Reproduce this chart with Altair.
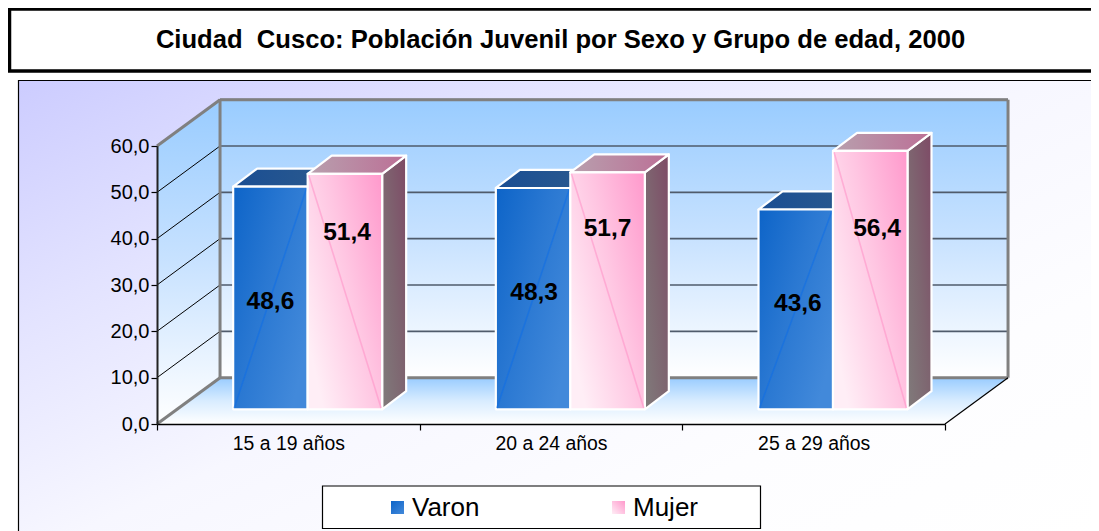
import altair as alt
import pandas as pd

TITLE = "Ciudad \u00a0Cusco: Población Juvenil por Sexo y Grupo de edad, 2000"
CATEGORIES = ["15 a 19 años", "20 a 24 años", "25 a 29 años"]
SERIES = ["Varon", "Mujer"]
VARON = [48.6, 48.3, 43.6]
MUJER = [51.4, 51.7, 56.4]
Y_TICKS = [0, 10, 20, 30, 40, 50, 60]

# layout of the drawing, separate from the data
W, H, PL, PT = 788, 278, 149, 138
DX, DY = 0.24, 10.0            # depth of the chart box, in axis units
BDX, BDY = 0.0914, 3.9         # depth of one bar
BAR_W = 0.2836
BAR_X0 = 0.29
BASE = 3.17
PERSP = 0.989
# hand-placed value labels: height share of the bar, and x nudge
LABEL_SHARE = [[0.485, 0.53, 0.53], [0.753, 0.764, 0.70]]
LABEL_NUDGE = [[0.0, 0.004, 0.008], [0.008, 0.0, 0.026]]


def px(page_x):
    return page_x - 8 - PL


def py(page_y):
    return page_y - 8 - PT


def grad(stops, x1=0, y1=0, x2=0, y2=1):
    n = len(stops) - 1
    return alt.Gradient(
        gradient="linear",
        stops=[alt.GradientStop(color=c, offset=i / n) for i, c in enumerate(stops)],
        x1=x1, y1=y1, x2=x2, y2=y2,
    )


XS = alt.Scale(domain=[0, 3])
YS = alt.Scale(domain=[0, 60])


def X(f="x", **kw):
    return alt.X(f"{f}:Q", scale=XS, axis=kw.pop("axis", None), title=None)


def Y(f="y", **kw):
    return alt.Y(f"{f}:Q", scale=YS, axis=kw.pop("axis", None), title=None, stack=None)


def box(x0, y0, x1, y1, **mark):
    return alt.Chart(pd.DataFrame({"a": [0]})).mark_rect(**mark).encode(
        x=alt.value(px(x0)), x2=alt.value(px(x1)), y=alt.value(py(y0)), y2=alt.value(py(y1))
    )


def label(text, x, y, **mark):
    return alt.Chart(pd.DataFrame({"t": [text]})).mark_text(font="Liberation Sans", **mark).encode(
        text="t:N", x=alt.value(px(x)), y=alt.value(py(y))
    )


def rules(rows, **mark):
    df = pd.DataFrame(rows, columns=["x", "y", "x2", "y2"])
    return alt.Chart(df).mark_rule(**mark).encode(
        x=X(), y=Y(), x2="x2:Q", y2="y2:Q"
    )


# ---- chrome -------------------------------------------------------------
panel = box(18.5, 80.5, 1097, 560, stroke="black", strokeWidth=1.2,
            fill=grad(["#CCCCFF", "#E3E3FF", "#F7F7FF", "#FDFDFF", "#FFFFFF"], 0, 0, 1, 0.95))
title_box = box(9.5, 9, 1130, 71, fill="white", stroke="black", strokeWidth=3.5)
title = label(TITLE, 560.5, 40, fontSize=25.6, fontWeight="bold", color="black",
              align="center", baseline="middle")

# ---- chart box ----------------------------------------------------------
WALL = ["#99CCFF", "#C8E2FF", "#FFFFFF"]
x_ticks = [0, 0.5, 1, 1.5, 2, 2.5, 3]
cat_js = ",".join("'" + c + "'" for c in CATEGORIES)
x_axis = alt.Axis(
    orient="bottom",
    values=x_ticks, tickSize=6, tickColor="black", tickWidth=1.2,
    tickOpacity={"condition": {"test": "datum.value % 1 === 0", "value": 1}, "value": 0},
    domainColor="black", domainWidth=1.6, grid=False, labelOverlap=False, labelFlush=False,
    labelFont="Liberation Sans", labelFontSize=19.4, labelColor="black", labelPadding=4,
    labelExpr="datum.value % 1 === 0 ? '' : [" + cat_js + "][floor(datum.value)]",
    zindex=1,
)
y_axis = alt.Axis(
    orient="left",
    values=Y_TICKS, tickSize=6, tickColor="black", tickWidth=1.2, domainColor="#222222",
    domainWidth=2, grid=False, labelFont="Liberation Sans", labelFontSize=20, labelColor="black",
    labelPadding=2, labelExpr="replace(format(datum.value,'.1f'),'.',',')", zindex=1,
)
back = alt.Chart(pd.DataFrame({"x": [DX], "x2": [3 + DX], "y": [DY], "y2": [60 + DY]})).mark_rect(
    fill=grad(WALL)
).encode(x=X(axis=x_axis), x2="x2:Q", y=Y(axis=y_axis), y2="y2:Q")

left_wall = alt.Chart(pd.DataFrame({"x": [0, DX], "y": [0, DY], "y2": [60, 60 + DY]})).mark_area(
    orient="vertical", fill=grad(WALL)
).encode(x=X(), y=Y(), y2="y2:Q")

floor = alt.Chart(pd.DataFrame({"y": [0, DY], "x": [0, DX], "x2": [3, 3 + DX]})).mark_area(
    orient="horizontal", fill=grad(["#99CCFF", "#D8ECFF", "#FFFFFF"])
).encode(y=Y(), x=X(), x2="x2:Q")

grid_back = rules([[DX, v + DY, 3 + DX, v + DY] for v in Y_TICKS[1:]],
                  color="#4F5B6B", strokeWidth=1.6)
grid_left = rules([[0, v, DX, v + DY] for v in Y_TICKS[1:]], color="black", strokeWidth=1)
frame = rules(
    [[DX, DY, DX, 60 + DY], [DX, 60 + DY, 3 + DX, 60 + DY], [3 + DX, DY, 3 + DX, 60 + DY],
     [DX, DY, 3 + DX, DY], [0, 60, DX, 60 + DY], [0, 0, DX, DY]],
    color="#808080", strokeWidth=3,
)
floor_edge = rules([[3, 0, 3 + DX, DY]], color="black", strokeWidth=1.2)


# ---- bars ---------------------------------------------------------------
def bar_layers(values, s, front_fill, top_fill, side_fill, streak, streak_rows):
    rows = []
    for i, v in enumerate(values):
        x0 = i + BAR_X0 + s * BAR_W
        rows.append(dict(bar=i, x0=x0, x1=x0 + BAR_W, top=BASE + v * PERSP))
    df = pd.DataFrame(rows)
    side, topf = [], []
    for r in rows:
        side += [dict(bar=r["bar"], x=r["x1"], y=BASE, y2=r["top"]),
                 dict(bar=r["bar"], x=r["x1"] + BDX, y=BASE + BDY, y2=r["top"] + BDY)]
        topf += [dict(bar=r["bar"], y=r["top"], x=r["x0"], x2=r["x1"]),
                 dict(bar=r["bar"], y=r["top"] + BDY, x=r["x0"] + BDX, x2=r["x1"] + BDX)]
    stroke = dict(stroke="white", strokeWidth=2.2, strokeJoin="round")
    side_l = alt.Chart(pd.DataFrame(side)).mark_area(orient="vertical", fill=side_fill, **stroke).encode(
        x=X(), y=Y(), y2="y2:Q", detail="bar:N")
    top_l = alt.Chart(pd.DataFrame(topf)).mark_area(orient="horizontal", fill=top_fill, **stroke).encode(
        y=Y(), x=X(), x2="x2:Q", detail="bar:N")
    df["base"] = BASE
    front = alt.Chart(df).mark_rect(fill=front_fill, **stroke).encode(
        x=X("x0"), x2="x1:Q", y=Y("base"), y2="top:Q")
    line = rules(streak_rows(rows), color=streak, strokeWidth=1.6, opacity=0.55)
    return [side_l, top_l, front, line]


def rise(rows):
    return [[r["x0"] + 0.004, BASE + 0.3, r["x1"] - 0.004, r["top"] - 0.3] for r in rows]


def fall(rows):
    return [[r["x0"] + 0.004, r["top"] - 0.3, r["x1"] - 0.004, BASE + 0.3] for r in rows]


blue = bar_layers(
    VARON, 0,
    grad(["#0D64C8", "#2A78D2", "#4289DA"], 0, 0, 1, 0.7),
    grad(["#1A4E93", "#2B5A8E"], 0, 0, 1, 0),
    grad(["#1A4E93", "#2B5A8E"], 0, 0, 1, 0),
    "#0F6EE6", rise,
)
pink = bar_layers(
    MUJER, 1,
    grad(["#FF99CC", "#FFC6E2", "#FFEEF6"], 1, 0, 0, 0.7),
    grad(["#B8A0AE", "#BC6F96"], 0, 0.5, 1, 0.5),
    grad(["#7E4A66", "#7E6570", "#807B7B"], 1, 0, 0, 1),
    "#FF8FC6", fall,
)

# ---- value labels -------------------------------------------------------
lab = []
for s, vals in enumerate([VARON, MUJER]):
    for i, v in enumerate(vals):
        lab.append(dict(
            x=i + BAR_X0 + (s + 0.5) * BAR_W + LABEL_NUDGE[s][i],
            y=BASE + v * PERSP * LABEL_SHARE[s][i],
            t=f"{v:.1f}".replace(".", ","),
        ))
value_labels = alt.Chart(pd.DataFrame(lab)).mark_text(
    font="Liberation Sans", fontSize=24.5, fontWeight="bold", color="black", align="center",
    baseline="middle", dy=1
).encode(x=X(), y=Y(), text="t:N")

# ---- legend -------------------------------------------------------------
legend_box = box(322.5, 486, 760.5, 528.5, fill="white", stroke="black", strokeWidth=1.2)
sw_v = box(391, 501, 404, 514, fill=grad(["#0D64C8", "#4289DA"], 0, 0, 1, 1))
sw_m = box(612, 501, 625, 514, fill=grad(["#FF99CC", "#FFEEF6"], 1, 0, 0, 1))
txt_v = label(SERIES[0], 412, 507.5, fontSize=26, color="black", align="left", baseline="middle")
txt_m = label(SERIES[1], 633, 507.5, fontSize=26, color="black", align="left", baseline="middle")

chart = alt.layer(
    panel, title_box, title, back, left_wall, floor, grid_back, grid_left, frame, floor_edge,
    *blue, *pink, value_labels, legend_box, sw_v, sw_m, txt_v, txt_m,
).resolve_axis(x="independent", y="independent").properties(
    width=W, height=H,
    autosize=alt.AutoSizeParams(type="none"),
    padding={"left": PL, "top": PT, "right": 1083 - PL - W, "bottom": 523 - PT - H},
    background="white",
).configure_view(stroke=None)

chart.save("out.html", embed_options={"renderer": "svg", "actions": False})
